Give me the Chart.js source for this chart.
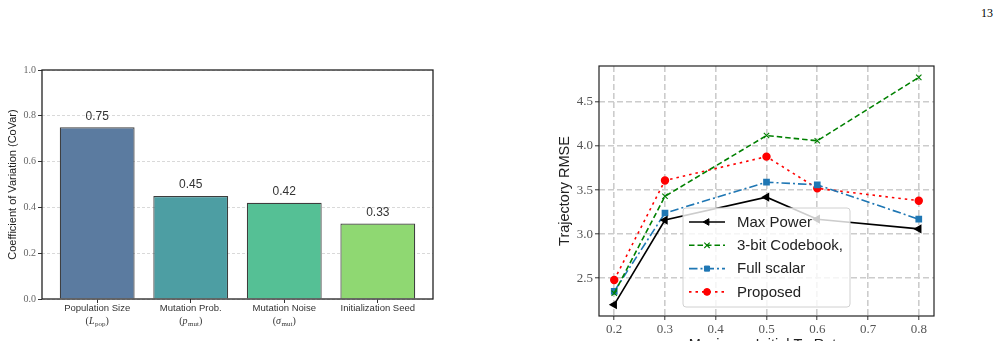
<!DOCTYPE html>
<html>
<head>
<meta charset="utf-8">
<script src="https://cdn.jsdelivr.net/npm/chart.js@4.4.0/dist/chart.umd.min.js"></script>
<style>
  html, body { margin: 0; padding: 0; background: #fff; overflow: hidden; width: 1003px; height: 341px; }
  canvas { position: absolute; top: 0; }
  #pageNo { position: absolute; left: 981px; top: 6px; font: 12px "Liberation Serif", serif; color: #000; }
</style>
</head>
<body>
<div id="pageNo">13</div>
<canvas id="barChart" width="450" height="341" style="left:0px"></canvas>
<canvas id="lineChart" width="463" height="370" style="left:540px"></canvas>
<script>
// --- left panel data ---
const categories = ["Population Size", "Mutation Prob.", "Mutation Noise", "Initialization Seed"];
const catSymbols = ["L", "p", "σ", ""];
const catSubs = ["pop", "mut", "mut", ""];
const covarValues = [0.75, 0.45, 0.42, 0.33];
const barColors = ["#5b7ba0", "#4d9ea3", "#55c095", "#8fd872"];
const covarTicks = [0, 0.2, 0.4, 0.6, 0.8, 1.0];

// --- right panel data ---
const rates = [0.2, 0.3, 0.5, 0.6, 0.8];
const rateTicks = [0.2, 0.3, 0.4, 0.5, 0.6, 0.7, 0.8];
const rmseTicks = [2.5, 3.0, 3.5, 4.0, 4.5];
const seriesNames = ["Max Power", "3-bit Codebook,", "Full scalar", "Proposed"];
const maxPower = [2.20, 3.16, 3.42, 3.17, 3.06];
const codebook3bit = [2.33, 3.43, 4.12, 4.06, 4.78];
const fullScalar = [2.35, 3.24, 3.59, 3.56, 3.17];
const proposed = [2.48, 3.61, 3.88, 3.52, 3.38];

const sans = "'Liberation Sans', Arial, sans-serif";
const serif = "'Liberation Serif', 'Times New Roman', serif";

// frame round the plot area
const framePlugin = {
    id: "frame",
    afterDraw(chart, args, opts) {
        const a = chart.chartArea, ctx = chart.ctx;
        ctx.save();
        ctx.strokeStyle = opts.color || "#222";
        ctx.lineWidth = opts.width || 1.2;
        ctx.strokeRect(a.left, a.top, a.right - a.left, a.bottom - a.top);
        ctx.restore();
    }
};

// bar chart extras: value labels, category labels, y title
const barExtras = {
    id: "barExtras",
    afterDraw(chart) {
        const ctx = chart.ctx;
        const meta = chart.getDatasetMeta(0);
        const xs = chart.scales.x;
        ctx.save();
        ctx.fillStyle = "#333";
        ctx.font = "12px " + sans;
        ctx.textAlign = "center";
        ctx.textBaseline = "alphabetic";
        meta.data.forEach((bar, i) => {
            ctx.fillText(covarValues[i].toFixed(2), bar.x, bar.y - 7.5);
        });

        categories.forEach((c, i) => {
            const cx = xs.getPixelForValue(i);
            ctx.font = "9.5px " + sans;
            ctx.fillStyle = "#333";
            ctx.textAlign = "center";
            ctx.fillText(c, cx, 311);
            if (catSymbols[i]) {
                const f1 = "10px " + serif, fi = "italic 10px " + serif, fs = "7px " + serif;
                ctx.font = f1; const wp = ctx.measureText("(").width;
                ctx.font = fi; const ws = ctx.measureText(catSymbols[i]).width;
                ctx.font = fs; const wsub = ctx.measureText(catSubs[i]).width;
                const total = wp * 2 + ws + wsub + 0.5;
                let x = cx - total / 2;
                const y = 324;
                ctx.textAlign = "left";
                ctx.font = f1; ctx.fillText("(", x, y); x += wp;
                ctx.font = fi; ctx.fillText(catSymbols[i], x, y); x += ws + 0.5;
                ctx.font = fs; ctx.fillText(catSubs[i], x, y + 2); x += wsub;
                ctx.font = f1; ctx.fillText(")", x, y);
            }
        });

        // y axis title
        const a = chart.chartArea;
        ctx.translate(13, (a.top + a.bottom) / 2);
        ctx.rotate(-Math.PI / 2);
        ctx.textAlign = "center";
        ctx.textBaseline = "middle";
        ctx.font = "11px " + sans;
        ctx.fillStyle = "#222";
        ctx.fillText("Coefficient of Variation (CoVar)", 0, 0);
        ctx.restore();
    }
};

new Chart(document.getElementById("barChart"), {
    type: "bar",
    data: {
        datasets: [{
            data: covarValues.map((v, i) => ({ x: i, y: v })),
            backgroundColor: barColors,
            borderColor: "rgba(40,40,40,0.9)",
            borderWidth: 1.2,
            barPercentage: 0.8,
            categoryPercentage: 1.0
        }]
    },
    options: {
        responsive: false,
        animation: false,
        layout: { padding: { top: 70, right: 17, left: 0, bottom: 0 } },
        plugins: { legend: { display: false }, tooltip: { enabled: false }, frame: { color: "#222", width: 1.3 } },
        scales: {
            x: {
                type: "linear",
                offset: false,
                min: -0.59,
                max: 3.59,
                afterBuildTicks: s => { s.ticks = categories.map((c, i) => ({ value: i })); },
                afterFit: s => { s.height = 42; },
                ticks: { display: false },
                grid: { offset: false, drawOnChartArea: false, drawTicks: true, tickLength: 4, tickColor: "#333", tickWidth: 1 },
                border: { display: false }
            },
            y: {
                min: 0,
                max: 1,
                afterBuildTicks: s => { s.ticks = covarTicks.map(v => ({ value: v })); },
                afterFit: s => { s.width = 42; },
                ticks: { callback: v => v.toFixed(1), font: { family: serif, size: 10 }, color: "#666", padding: 2 },
                grid: { color: "#cfcfcf", lineWidth: 0.8, drawTicks: true, tickLength: 4, tickColor: "#333", tickWidth: 1 },
                border: { display: false, dash: [3, 2] }
            }
        }
    },
    plugins: [framePlugin, barExtras]
});

// line chart: legend and axis titles
const lineExtras = {
    id: "lineExtras",
    afterDatasetsDraw(chart) {
        const ctx = chart.ctx;
        // legend box
        const bx = 143, by = 208, bw = 167, bh = 99;
        ctx.save();
        ctx.beginPath();
        ctx.roundRect(bx, by, bw, bh, 3);
        ctx.fillStyle = "rgba(255,255,255,0.8)";
        ctx.fill();
        ctx.strokeStyle = "#d0d0d0";
        ctx.lineWidth = 1;
        ctx.stroke();
        chart.data.datasets.forEach((ds, i) => {
            const y = 222 + i * 23.3;
            ctx.beginPath();
            ctx.setLineDash(ds.borderDash || []);
            ctx.strokeStyle = ds.borderColor;
            ctx.lineWidth = ds.borderWidth;
            ctx.moveTo(149, y);
            ctx.lineTo(185, y);
            ctx.stroke();
            ctx.setLineDash([]);
            ctx.fillStyle = ds.pointBackgroundColor;
            ctx.strokeStyle = ds.pointBorderColor;
            ctx.lineWidth = ds.pointBorderWidth || 1;
            Chart.helpers.drawPoint(ctx, { pointStyle: ds.pointStyle, radius: ds.pointRadius, rotation: ds.pointRotation || 0, borderWidth: ds.pointBorderWidth || 1 }, 167, y);
            ctx.fillStyle = "#222";
            ctx.font = "15px " + sans;
            ctx.textAlign = "left";
            ctx.textBaseline = "middle";
            ctx.fillText(ds.label, 197, y + 0.5);
        });
        ctx.restore();
    },
    afterDraw(chart) {
        const ctx = chart.ctx, a = chart.chartArea;
        ctx.save();
        ctx.fillStyle = "#222";
        ctx.font = "14.5px " + sans;
        ctx.textAlign = "center";
        ctx.textBaseline = "middle";
        ctx.translate(25, (a.top + a.bottom) / 2);
        ctx.rotate(-Math.PI / 2);
        ctx.fillText("Trajectory RMSE", 0, 0);
        ctx.restore();
        ctx.save();
        ctx.fillStyle = "#222";
        ctx.font = "14.5px " + sans;
        ctx.textAlign = "center";
        ctx.textBaseline = "alphabetic";
        ctx.fillText("Maximum Initial Tx Rate", (a.left + a.right) / 2, 349);
        ctx.restore();
    }
};

const toPts = arr => rates.map((x, i) => ({ x: x, y: arr[i] }));

new Chart(document.getElementById("lineChart"), {
    type: "line",
    data: {
        datasets: [
            { label: seriesNames[0], data: toPts(maxPower), borderColor: "#000", borderWidth: 1.6, borderDash: [],
              pointStyle: "triangle", pointRotation: -90, pointRadius: 3.8, pointBackgroundColor: "#000", pointBorderColor: "#000" },
            { label: seriesNames[1], data: toPts(codebook3bit), borderColor: "#008000", borderWidth: 1.6, borderDash: [5.5, 3],
              pointStyle: "crossRot", pointRadius: 3.8, pointBackgroundColor: "#008000", pointBorderColor: "#008000", pointBorderWidth: 1.1 },
            { label: seriesNames[2], data: toPts(fullScalar), borderColor: "#1f77b4", borderWidth: 1.6, borderDash: [8.5, 3, 2, 3],
              pointStyle: "rect", pointRadius: 3.6, pointBackgroundColor: "#1f77b4", pointBorderColor: "#1f77b4" },
            { label: seriesNames[3], data: toPts(proposed), borderColor: "#ff0000", borderWidth: 1.6, borderDash: [2.5, 4],
              pointStyle: "circle", pointRadius: 3.4, pointBackgroundColor: "#ff0000", pointBorderColor: "#ff0000" }
        ]
    },
    options: {
        responsive: false,
        animation: false,
        layout: { padding: { top: 66, right: 69, left: 0, bottom: 0 } },
        plugins: { legend: { display: false }, tooltip: { enabled: false }, frame: { color: "#222", width: 1.2 } },
        elements: { line: { tension: 0, fill: false } },
        scales: {
            x: {
                type: "linear",
                min: 0.17,
                max: 0.83,
                afterBuildTicks: s => { s.ticks = rateTicks.map(v => ({ value: v })); },
                afterFit: s => { s.height = 370 - 316; },
                ticks: { callback: v => v.toFixed(1), font: { family: serif, size: 13 }, color: "#555", padding: 2, maxRotation: 0 },
                grid: { color: "#cccccc", lineWidth: 1.6, drawTicks: true, tickLength: 4, tickColor: "#333", tickWidth: 1 },
                border: { display: false, dash: [6, 3] }
            },
            y: {
                min: 2.071,
                max: 4.909,
                afterBuildTicks: s => { s.ticks = rmseTicks.map(v => ({ value: v })); },
                afterFit: s => { s.width = 59; },
                ticks: { callback: v => v.toFixed(1), font: { family: serif, size: 13 }, color: "#555", padding: 2 },
                grid: { color: "#cccccc", lineWidth: 1.6, drawTicks: true, tickLength: 4, tickColor: "#333", tickWidth: 1 },
                border: { display: false, dash: [6, 3] }
            }
        }
    },
    plugins: [framePlugin, lineExtras]
});
</script>
</body>
</html>
